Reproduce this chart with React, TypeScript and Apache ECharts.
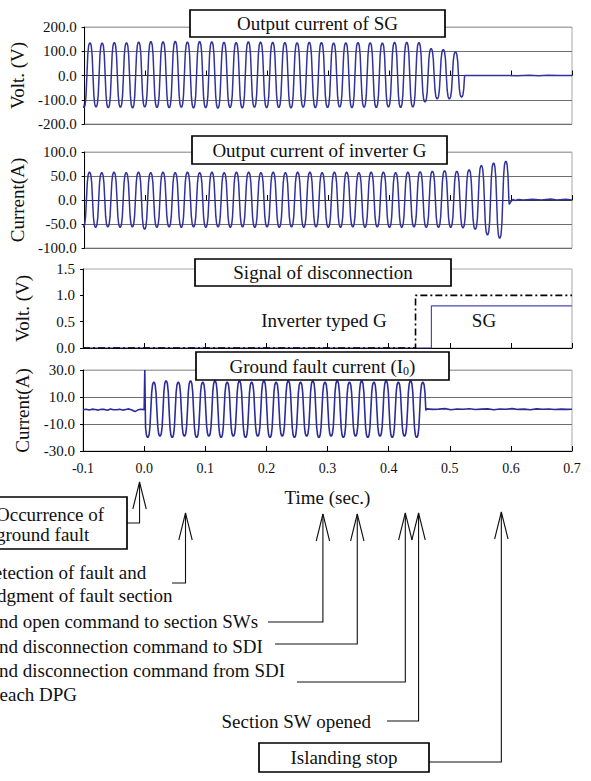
import React, { useEffect, useRef } from 'react';
import * as echarts from 'echarts';

const FONT = 'Liberation Serif';

// ---------- axes ----------
const X_MIN = -0.1;
const X_MAX = 0.7;
const X_STEP = 0.1;
const Y_NAMES = ['Volt. (V)', 'Current(A)', 'Volt. (V)', 'Current(A)'];
const Y_MIN = [-200, -100, 0, -30];
const Y_MAX = [200, 100, 1.5, 30];
const Y_STEP = [100, 50, 0.5, 20];
const PANEL_TITLES = ['Output current of SG', 'Output current of inverter G', 'Signal of disconnection'];

// ---------- one half-cycle profile (phase in half periods, level as share of the extreme) ----------
const HALF_PHASE = [-0.5, -0.36, -0.22, -0.1, 0, 0.1, 0.22, 0.36];
const HALF_LEVEL = [0, 0.62, 0.9, 0.98, 1, 0.98, 0.9, 0.62];

// ---------- panel 1: output current of SG (extreme of every half cycle) ----------
const SG_FIRST_T = -0.1013;
const SG_HALF_PERIOD = 0.01;
const SG_EXTREMES = [
  -132, 135, -130, 134, -133, 136, -131, 135, -134, 138,
  -130, 140, -132, 139, -133, 141, -131, 138, -134, 140,
  -133, 139, -135, 137, -132, 136, -134, 139, -131, 138,
  -133, 137, -132, 136, -134, 135, -131, 137, -133, 136,
  -132, 134, -130, 135, -133, 136, -131, 135, -132, 134,
  -130, 137, -132, 137, -130, 136, -109, 111, -96, 107,
  -96, 97, -89,
];
const SG_TAIL = [[0.54, 0], [0.58, 0.5], [0.61, -1], [0.63, 1.5], [0.645, -1], [0.66, 1], [0.68, 0], [0.7, 0.5]];

// ---------- panel 2: output current of inverter G ----------
const INV_FIRST_T = -0.1021;
const INV_HALF_PERIOD = 0.01005;
const INV_EXTREMES = [
  -56, 58, -57, 57, -56, 58, -57, 57, -56, 58,
  -61, 57, -57, 58, -56, 57, -57, 58, -56, 57,
  -57, 58, -56, 57, -57, 58, -56, 58, -57, 57,
  -56, 58, -57, 57, -56, 58, -57, 58, -56, 57,
  -57, 58, -57, 58, -56, 57, -57, 58, -56, 58,
  -57, 57, -57, 58, -56, 59, -57, 60, -57, 61,
  -57, 60, -58, 63, -61, 72, -73, 77, -80, 81,
];
const INV_TAIL = [[0.597, -9], [0.6, -3], [0.603, 1], [0.607, -1], [0.612, 1], [0.62, 0], [0.635, 1.5], [0.65, 0], [0.665, 2], [0.675, 0], [0.69, 1.5], [0.7, 0]];

// ---------- panel 3: disconnection signals ----------
const INV_SIGNAL = [[-0.1, 0], [0.444, 0], [0.444, 1.0], [0.7, 1.0]];
const SG_SIGNAL = [[-0.1, 0], [0.47, 0], [0.47, 0.8], [0.7, 0.8]];

// ---------- panel 4: ground fault current ----------
const GF_PRE_T0 = -0.1;
const GF_PRE_STEP = 0.005;
const GF_PRE = [0.6, 0.9, 0.4, 1.0, 0.7, 0.3, 0.9, 0.8, 0.2, 1.1, 0.6, 0.5, 0.9, 0.3, 0.8, 1.2, 0.4, -0.8, 0.5, 0.9, 0.6];
const GF_SPIKE = [[0.0011, 30]];
const GF_FIRST_T = 0.0059;
const GF_HALF_PERIOD = 0.01;
const GF_EXTREMES = [
  -20, 21, -19, 22, -20, 21, -19, 22, -20, 21,
  -19, 22, -20, 21, -19, 22, -20, 21, -19, 22,
  -20, 21, -19, 22, -20, 21, -19, 22, -20, 21,
  -19, 22, -20, 21, -19, 22, -20, 21, -19, 22,
  -20, 21, -19, 22, -20, 21,
];
const GF_POST_T0 = 0.462;
const GF_POST_STEP = 0.01;
const GF_POST = [1.2, 0.8, 1.0, 1.4, 0.6, 1.1, 0.9, 1.3, 0.7, 1.0, 1.2, 0.5, 1.1, 0.9, 1.4, 0.8, 1.0, 0.6, 1.2, 0.9, 1.1, 0.7, 1.0, 0.8];

// ---------- annotation events (time each arrow points at) ----------
const EVENT_TIMES = [-0.0075, 0.0677, 0.2925, 0.3487, 0.4273, 0.449, 0.5844];

function wave(t0: number, hp: number, ext: number[]) {
  const pts: number[][] = [];
  ext.forEach((e, i) => {
    const tc = t0 + i * hp;
    HALF_PHASE.forEach((p, j) => pts.push([tc + p * hp, e * HALF_LEVEL[j]]));
  });
  pts.push([t0 + (ext.length - 0.5) * hp, 0]);
  return pts;
}

const fmt = (v: number) => (Math.abs(v) < 1e-9 ? 0 : v).toFixed(1);

export default function App() {
  const ref = useRef<HTMLDivElement>(null);
  useEffect(() => {
    if (!ref.current) return;
    const chart = echarts.init(ref.current, null, { renderer: 'svg' });

    const sgData = [...wave(SG_FIRST_T, SG_HALF_PERIOD, SG_EXTREMES), ...SG_TAIL];
    const invData = [...wave(INV_FIRST_T, INV_HALF_PERIOD, INV_EXTREMES), ...INV_TAIL];
    const gfWave = wave(GF_FIRST_T, GF_HALF_PERIOD, GF_EXTREMES).slice(1);
    const gfData = [
      ...GF_PRE.map((v, k) => [GF_PRE_T0 + k * GF_PRE_STEP, v]),
      ...GF_SPIKE,
      ...gfWave,
      ...GF_POST.map((v, k) => [GF_POST_T0 + k * GF_POST_STEP, v]),
      [0.7, 0.9],
    ];

    const grids = [
      { top: 27, height: 97 },
      { top: 152, height: 96 },
      { top: 269, height: 79 },
      { top: 370, height: 81 },
    ].map((g) => ({ ...g, left: 83, right: 19, show: true, borderColor: '#a8a8a8', borderWidth: 1 }));

    const splitColors: (string[] | null)[] = [
      ['#6e6e6e', '#6e6e6e', '#333', '#6e6e6e', '#a8a8a8'],
      ['#6e6e6e', '#6e6e6e', '#333', '#6e6e6e', '#a8a8a8'],
      null,
      ['#000', '#6e6e6e', '#6e6e6e', '#a8a8a8'],
    ];

    const xAxis = [0, 1, 2, 3].map((i) => ({
      type: 'value',
      gridIndex: i,
      min: X_MIN,
      max: X_MAX,
      interval: X_STEP,
      axisLine: { show: true, onZero: i < 2, lineStyle: { color: i < 2 ? '#333' : '#000', width: 1 } },
      axisTick: { show: true, inside: true, length: 5, lineStyle: { color: '#000' } },
      axisLabel: { show: i === 3, fontSize: 14, fontFamily: FONT, color: '#111', margin: 10, formatter: fmt },
      splitLine: { show: false },
      name: i === 3 ? 'Time (sec.)' : '',
      nameLocation: 'middle',
      nameGap: 37,
      nameTextStyle: { fontSize: 19, fontFamily: FONT, color: '#111' },
    }));

    const yAxis = [0, 1, 2, 3].map((i) => ({
      type: 'value',
      gridIndex: i,
      min: Y_MIN[i],
      max: Y_MAX[i],
      interval: Y_STEP[i],
      axisLine: { show: true, onZero: false, lineStyle: { color: '#000', width: 1 } },
      axisTick: { show: true, inside: false, length: 3, lineStyle: { color: '#000' } },
      axisLabel: { fontSize: 15, fontFamily: FONT, color: '#111', margin: 8, formatter: fmt },
      splitLine: splitColors[i]
        ? { show: true, lineStyle: { color: splitColors[i], width: 1 } }
        : { show: false },
      name: Y_NAMES[i],
      nameLocation: 'middle',
      nameGap: 51,
      nameTextStyle: { fontSize: 19, fontFamily: FONT, color: '#111' },
    }));

    const lineBase = { type: 'line', showSymbol: false, symbol: 'none', silent: true, clip: true };
    const series = [
      { ...lineBase, xAxisIndex: 0, yAxisIndex: 0, data: sgData, lineStyle: { color: '#32329c', width: 1.5 } },
      { ...lineBase, xAxisIndex: 1, yAxisIndex: 1, data: invData, lineStyle: { color: '#32329c', width: 1.5 } },
      { ...lineBase, xAxisIndex: 2, yAxisIndex: 2, data: SG_SIGNAL, lineStyle: { color: '#4a4ab0', width: 1.2 }, z: 2 },
      { ...lineBase, xAxisIndex: 2, yAxisIndex: 2, data: INV_SIGNAL, lineStyle: { color: '#000', width: 1.6, type: [7, 3, 2, 3] }, z: 3 },
      { ...lineBase, xAxisIndex: 3, yAxisIndex: 3, data: gfData, lineStyle: { color: '#2c2c98', width: 1.6 } },
    ];

    chart.setOption({ animation: false, backgroundColor: '#fff', grid: grids, xAxis, yAxis, series });

    // ----- annotations -----
    const txt = (text: string, x: number, y: number, align = 'left', size = 19) => ({
      type: 'text',
      x,
      y,
      z: 101,
      style: {
        text,
        fontSize: size,
        fontFamily: FONT,
        fill: '#111',
        align,
        textAlign: align,
        verticalAlign: 'middle',
        textVerticalAlign: 'middle',
      },
    });
    const box = (x: number, y: number, w: number, h: number) => ({
      type: 'rect',
      z: 100,
      shape: { x, y, width: w, height: h },
      style: { fill: '#fff', stroke: '#000', lineWidth: 1.7 },
    });
    const elements: any[] = [];
    const titleBoxes = [
      [190, 10, 255, 27],
      [192, 136, 255, 28],
      [195, 259, 256, 27],
    ];
    PANEL_TITLES.forEach((t, i) => {
      const [x, y, w, h] = titleBoxes[i];
      elements.push(box(x, y, w, h));
      elements.push(txt(t, x + w / 2, y + h / 2, 'center'));
    });
    elements.push(box(196, 352, 253, 28));
    elements.push({
      type: 'text',
      x: 322.5,
      y: 366,
      z: 101,
      style: {
        text: '{a|Ground fault current (I}{s|0}{a|)}',
        align: 'center',
        textAlign: 'center',
        verticalAlign: 'middle',
        textVerticalAlign: 'middle',
        rich: {
          a: { fontSize: 19, fontFamily: FONT, fill: '#111', color: '#111', lineHeight: 22 },
          s: { fontSize: 12, fontFamily: FONT, fill: '#111', color: '#111', lineHeight: 12, verticalAlign: 'bottom' },
        },
      },
    });
    elements.push(txt('Inverter typed G', 324, 320, 'center'));
    elements.push(txt('SG', 484, 320, 'center'));

    // arrows
    const tipY = [482, 513, 514, 514, 513, 513, 512];
    const bottomY = [523, 583, 622, 644, 682, 721, 762];
    const endX = [127, 172, 268, 275, 297, 387, 429];
    EVENT_TIMES.forEach((t, i) => {
      const x = chart.convertToPixel({ xAxisIndex: 3 }, t) as number;
      elements.push({
        type: 'polyline',
        z: 100,
        shape: { points: [[x, tipY[i]], [x, bottomY[i]], [endX[i], bottomY[i]]] },
        style: { stroke: '#111', lineWidth: 1.1, fill: null },
      });
      elements.push({
        type: 'polyline',
        z: 100,
        shape: { points: [[x - 6.7, tipY[i] + 27], [x, tipY[i]], [x + 6.7, tipY[i] + 27]] },
        style: { stroke: '#111', lineWidth: 1.1, fill: null },
      });
    });

    elements.push(box(-10, 497, 137, 52));
    elements.push(txt('Occurrence of', -4, 514));
    elements.push(txt('ground fault', -4, 534));
    elements.push(txt('Detection of fault and', -20, 572));
    elements.push(txt('Judgment of fault section', -20, 595));
    elements.push(txt('Send open command to section SWs', -20, 621));
    elements.push(txt('Send disconnection command to SDI', -20, 646));
    elements.push(txt('Send disconnection command from SDI', -20, 670));
    elements.push(txt('to each DPG', -20, 694));
    elements.push(txt('Section SW opened', 371, 721, 'right'));
    elements.push(box(259, 743, 170, 29));
    elements.push(txt('Islanding stop', 344, 757, 'center'));

    chart.setOption({ graphic: { elements } });

    return () => chart.dispose();
  }, []);

  return (
    <div
      ref={ref}
      style={{ position: 'fixed', left: 0, top: 0, width: 591, height: 781, background: '#fff' }}
    />
  );
}
